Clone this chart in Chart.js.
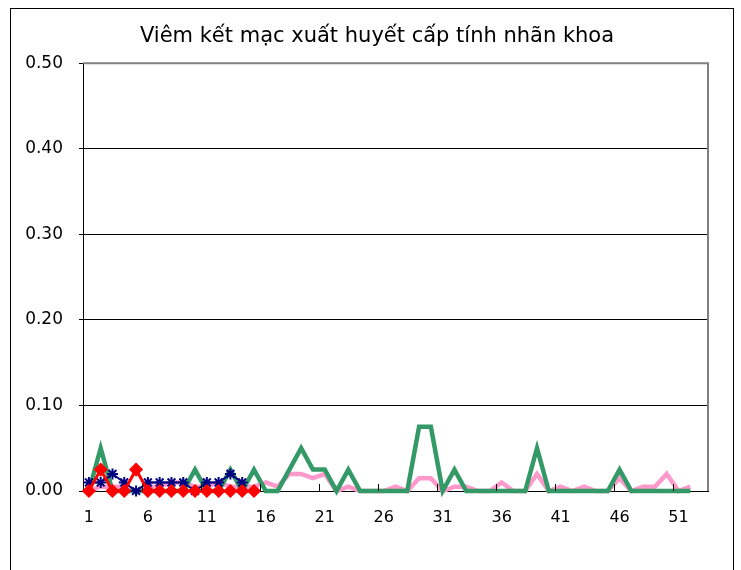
<!DOCTYPE html>
<html>
<head>
<meta charset="utf-8">
<script src="https://cdn.jsdelivr.net/npm/chart.js@4"></script>
<style>
    html, body { margin: 0; padding: 0; background: #fff; }
    #wrap { width: 741px; height: 570px; }
</style>
</head>
<body>
<div id="wrap"><canvas id="chart" width="741" height="570"></canvas></div>
<script>
// Week numbers on the category axis
const weeks = ['1', '2', '3', '4', '5', '6', '7', '8', '9', '10',
    '11', '12', '13', '14', '15', '16', '17', '18', '19', '20',
    '21', '22', '23', '24', '25', '26', '27', '28', '29', '30',
    '31', '32', '33', '34', '35', '36', '37', '38', '39', '40',
    '41', '42', '43', '44', '45', '46', '47', '48', '49', '50',
    '51', '52', '53'];

// Series values
const redValues = [0, 0.025, 0, 0, 0.025, 0, 0, 0, 0, 0, 0, 0, 0, 0, 0];
const blueValues = [0.01, 0.01, 0.02, 0.01, 0, 0.01, 0.01, 0.01, 0.01, 0, 0.01, 0.01, 0.02, 0.01];
const greenValues = [0, 0.05, 0, 0, 0, 0, 0, 0, 0, 0.025,
    0, 0, 0.025, 0, 0.025, 0, 0, 0.025, 0.05, 0.025,
    0.025, 0, 0.025, 0, 0, 0, 0, 0, 0.075, 0.075,
    0, 0.025, 0, 0, 0, 0, 0, 0, 0.05, 0,
    0, 0, 0, 0, 0, 0.025, 0, 0, 0, 0,
    0, 0];
const pinkValues = [0, 0.005, 0.005, 0.005, 0, 0.005, 0.005, 0.01, 0.01, 0.005,
    0.005, 0.01, 0.005, 0.005, 0.005, 0.01, 0.005, 0.02, 0.02, 0.015,
    0.02, 0, 0.005, 0, 0, 0, 0.005, 0, 0.015, 0.015,
    0, 0.005, 0.005, 0, 0, 0.01, 0, 0, 0.02, 0,
    0.005, 0, 0.005, 0, 0, 0.015, 0, 0.005, 0.005, 0.02,
    0, 0.005];

const yTicks = [0, 0.1, 0.2, 0.3, 0.4, 0.5];

const FONT = "'DejaVu Sans', sans-serif";

// Outer frame, plot border and inward tick marks on the category axis
const framePlugin = {
    id: 'frame',
    afterLayout(chart) {
        // centre the title over the whole frame, not just the plot
        chart.titleBlock.left = 13;
        chart.titleBlock.right = 741;
    },
    afterDraw(chart) {
        const ctx = chart.ctx;
        const area = chart.chartArea;
        const x = chart.scales.x;
        ctx.save();
        ctx.strokeStyle = '#000';
        ctx.lineWidth = 1;
        ctx.strokeRect(10.5, 8.5, 723, 600);

        ctx.strokeStyle = '#808080';
        ctx.lineWidth = 2;
        ctx.beginPath();
        ctx.moveTo(area.left, area.top);
        ctx.lineTo(area.right, area.top);
        ctx.lineTo(area.right, area.bottom);
        ctx.stroke();

        ctx.strokeStyle = '#000';
        ctx.lineWidth = 1;
        const step = x.width / weeks.length;
        ctx.beginPath();
        for (let i = 5; i < weeks.length; i += 5) {
            const px = Math.round(x.left + i * step) + 0.5;
            ctx.moveTo(px, area.bottom);
            ctx.lineTo(px, area.bottom - 7);
        }
        ctx.stroke();
        ctx.restore();
    }
};

new Chart(document.getElementById('chart'), {
    type: 'line',
    data: {
        labels: weeks,
        datasets: [{
            label: 'red',
            data: redValues,
            clip: false,
            borderColor: '#ff0000',
            backgroundColor: '#ff0000',
            borderWidth: 3,
            pointStyle: 'rectRot',
            pointRadius: 6,
            pointBorderWidth: 1.5,
            pointBackgroundColor: '#ff0000',
            pointBorderColor: '#ff0000'
        }, {
            label: 'blue',
            data: blueValues,
            clip: false,
            borderColor: '#000080',
            backgroundColor: '#000080',
            borderWidth: 2,
            pointStyle: 'star',
            pointRadius: 5.5,
            pointBorderWidth: 2,
            pointBorderColor: '#000080'
        }, {
            label: 'green',
            data: greenValues,
            clip: false,
            borderColor: '#339966',
            borderWidth: 4.5,
            pointRadius: 0
        }, {
            label: 'pink',
            data: pinkValues,
            clip: false,
            borderColor: '#ff99cc',
            borderWidth: 4.5,
            pointRadius: 0
        }]
    },
    options: {
        responsive: false,
        animation: false,
        elements: {
            line: { tension: 0, borderJoinStyle: 'miter' }
        },
        layout: {
            padding: { left: 0, right: 33, top: 0, bottom: 0 }
        },
        plugins: {
            legend: { display: false },
            tooltip: { enabled: false },
            title: {
                display: true,
                text: 'Viêm kết mạc xuất huyết cấp tính nhãn khoa',
                color: '#000',
                font: { family: FONT, size: 21, weight: 'normal' },
                padding: { top: 24, bottom: 14 }
            }
        },
        scales: {
            x: {
                offset: true,
                afterFit(scale) { scale.height = 79; },
                grid: { display: false },
                border: { display: true, color: '#000', width: 1 },
                ticks: {
                    autoSkip: false,
                    maxRotation: 0,
                    padding: 9,
                    color: '#000',
                    font: { family: FONT, size: 16 },
                    callback: function(value, index) {
                        return index % 5 === 0 ? weeks[index] : '';
                    }
                }
            },
            y: {
                min: 0,
                max: 0.5,
                afterFit(scale) { scale.width = 83; },
                afterBuildTicks(scale) {
                    scale.ticks = yTicks.map(v => ({ value: v }));
                },
                grid: { color: '#000', lineWidth: 1, tickLength: 4 },
                border: { display: true, color: '#000', width: 1 },
                ticks: {
                    padding: 16,
                    color: '#000',
                    font: { family: FONT, size: 17 },
                    callback: function(value) {
                        return value.toFixed(2);
                    }
                }
            }
        }
    },
    plugins: [framePlugin]
});
</script>
</body>
</html>
